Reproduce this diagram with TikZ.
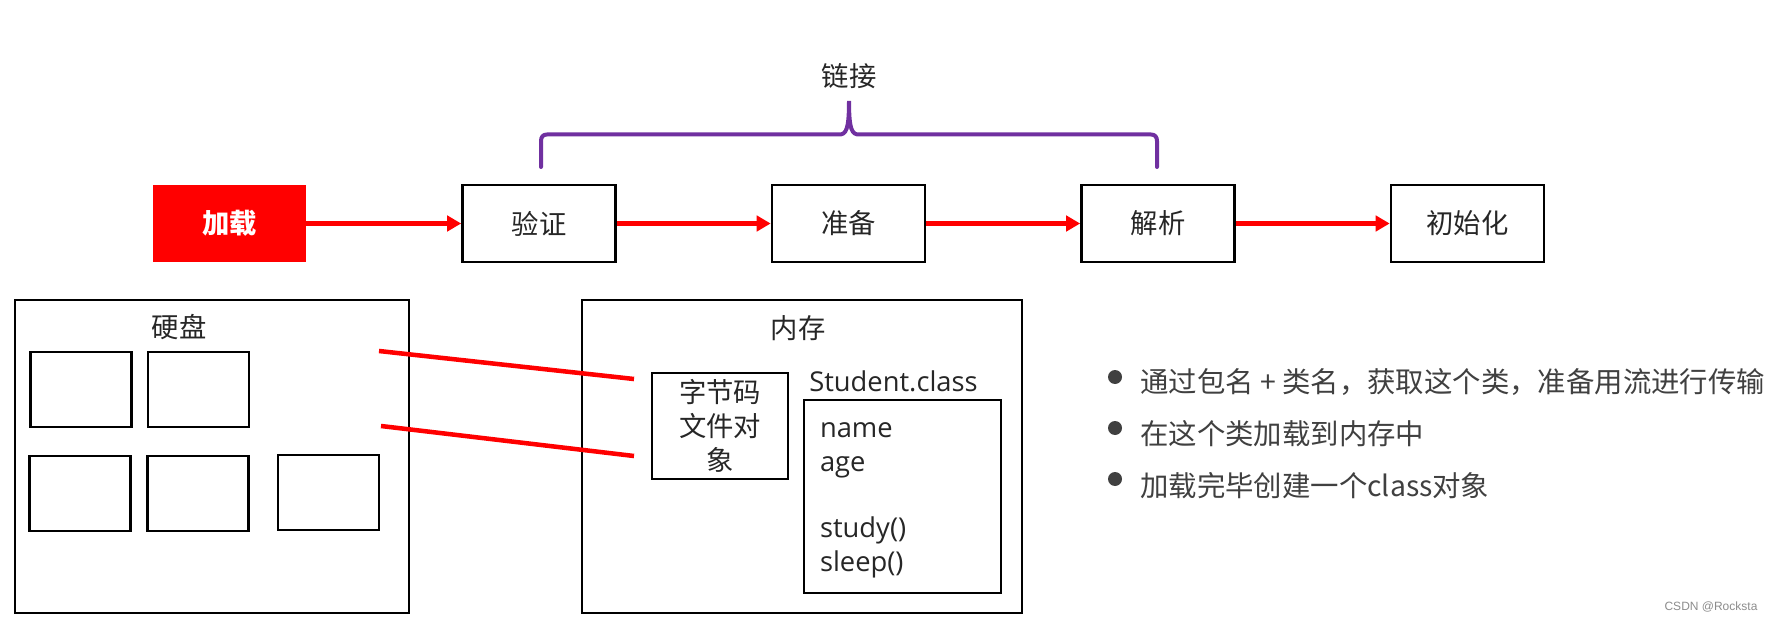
\documentclass[tikz,border=0pt]{standalone}
\usepackage{fontspec}
\setmainfont{Noto Sans CJK SC}
\newfontfamily\latinfont{Open Sans}
\newfontfamily\markfont{Liberation Sans}
\usetikzlibrary{arrows.meta}
\definecolor{linkpurple}{HTML}{7030A0}
\definecolor{textgray}{HTML}{262626}

\begin{document}
\begin{tikzpicture}[x=0.75pt,y=-0.75pt,
    stage/.style={draw=black, line width=2pt, minimum width=114.75pt, minimum height=57.75pt, inner sep=0pt, font=\fontsize{20.5}{25}\selectfont, text=textgray},
    loadbox/.style={fill=red, minimum width=114.75pt, minimum height=57.75pt, inner sep=0pt, text=white, font=\fontsize{20.5}{25}\selectfont\bfseries},
    flow/.style={red, line width=3.4pt, -{Triangle[length=10.5pt,width=11.5pt]}},
    wire/.style={red, line width=3.4pt},
    brace/.style={linkpurple, line width=3pt, line cap=round},
    frame/.style={draw=black, line width=2pt, inner sep=0pt},
    file/.style={frame, minimum width=75.75pt, minimum height=56.25pt},
    title/.style={inner sep=0pt, font=\fontsize{20.5}{25}\selectfont, text=textgray},
    dot/.style={circle, fill=black!75, minimum size=10.5pt, inner sep=0pt},
    point/.style={anchor=west, inner sep=0pt, font=\fontsize{21.3}{25}\selectfont, text=black!75}]
    \useasboundingbox (0,0) rectangle (1775,624);
    \node[loadbox] (load) at (229.5,223.5) {加载};
    \node[stage] (verify) at (539,223.5) {验证};
    \node[stage] (prepare) at (848.5,223.5) {准备};
    \node[stage] (resolve) at (1158,223.5) {解析};
    \node[stage] (init) at (1467.5,223.5) {初始化};
    \draw[flow] (load) -- (verify);
    \draw[flow] (verify) -- (prepare);
    \draw[flow] (prepare) -- (resolve);
    \draw[flow] (resolve) -- (init);
    \draw[brace] (541,167) -- (541,141) .. controls (541,137) and (543,134.5) .. (547,134.5) -- (839,134.5) .. controls (846,134.5) and (849,130) .. (849,101) .. controls (849,130) and (852,134.5) .. (859,134.5) -- (1151,134.5) .. controls (1155,134.5) and (1157,137) .. (1157,141) -- (1157,167);
    \node[title] (link) at (849,76) {链接};
    \node[frame, minimum width=295.5pt, minimum height=234.75pt] (disk) at (212,456.5) {};
    \node[title] (disklabel) at (179,327) {硬盘};
    \node[file] (f1) at (81,389.5) {};
    \node[file] (f2) at (198.5,389.5) {};
    \node[file] (f3) at (80,493.5) {};
    \node[file] (f4) at (198,493.5) {};
    \node[file] (f5) at (328.5,492.5) {};
    \node[frame, minimum width=330pt, minimum height=234.75pt] (memory) at (802,456.5) {};
    \node[title] (memlabel) at (798,328) {内存};
    \node[frame, minimum width=102pt, minimum height=79.5pt, align=center, font=\fontsize{20.5}{25.5}\selectfont, text=textgray] (bytecode) at (720,426) {字节码\\文件对\\象};
    \node[title, anchor=base west, font=\latinfont\fontsize{20.5}{25}\selectfont] (clsname) at (809,391) {Student.class};
    \node[frame, minimum width=147.75pt, minimum height=144.75pt, inner xsep=12pt, text width=123.75pt, align=left, font=\latinfont\fontsize{20.5}{25}\selectfont, text=textgray] (cls) at (902.5,496.5) {\rule{0pt}{17pt}name\\age\\[25pt]study()\\sleep()};
    \coordinate (w1a) at (379,351);
    \coordinate (w1b) at (634,379);
    \coordinate (w2a) at (381,426);
    \coordinate (w2b) at (634,456);
    \draw[wire] (w1a) -- (w1b);
    \draw[wire] (w2a) -- (w2b);
    \node[dot] (d1) at (1115,377) {};
    \node[dot] (d2) at (1115,428) {};
    \node[dot] (d3) at (1115,479) {};
    \node[point] (p1) at (1140,382.5) {通过包名 + 类名，获取这个类，准备用流进行传输};
    \node[point] (p2) at (1140,434) {在这个类加载到内存中};
    \node[point] (p3) at (1140,485.5) {加载完毕创建一个class对象};
    \node[inner sep=0pt, font=\markfont\fontsize{9}{10}\selectfont, text=black!45] (mark) at (1711,607) {CSDN @Rocksta};
\end{tikzpicture}
\end{document}
